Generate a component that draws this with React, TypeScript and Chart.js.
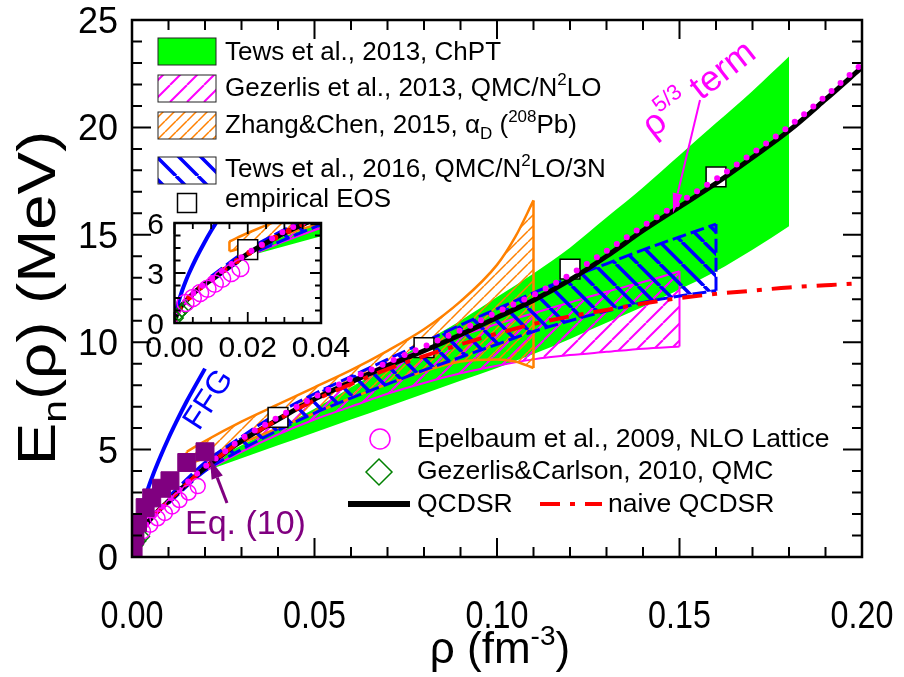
import React, { useEffect, useRef } from 'react';
import { Chart, registerables } from 'chart.js';
Chart.register(...registerables);

const FAMILY = '"Liberation Sans", Arial, Helvetica, sans-serif';

// ---------------- axis ticks ----------------
const xTickValues = [0, 0.05, 0.1, 0.15, 0.2];
const xTickLabels = ['0.00', '0.05', '0.10', '0.15', '0.20'];
const yTickValues = [0, 5, 10, 15, 20, 25];
const yTickLabels = ['0', '5', '10', '15', '20', '25'];
const insetXTickValues = [0, 0.02, 0.04];
const insetXTickLabels = ['0.00', '0.02', '0.04'];
const insetYTickValues = [0, 3, 6];
const insetYTickLabels = ['0', '3', '6'];

// ---------------- curves ----------------
const rhoQCDSR = [0, 0.0005, 0.001, 0.002, 0.003, 0.005, 0.0075, 0.01, 0.015, 0.02, 0.025, 0.03, 0.04, 0.05, 0.06, 0.07, 0.08, 0.09, 0.10, 0.11, 0.12, 0.13, 0.14, 0.15, 0.16, 0.17, 0.18, 0.19, 0.20];
const eQCDSR = [0, 0.45, 0.7, 1.05, 1.3, 1.75, 2.2, 2.6, 3.4, 4.15, 4.8, 5.4, 6.4, 7.35, 8.15, 8.9, 9.6, 10.35, 11.15, 11.95, 12.9, 14.0, 15.2, 16.3, 17.4, 18.6, 19.85, 21.3, 22.8];
const eRho53 = [0, 0.45, 0.7, 1.05, 1.3, 1.75, 2.2, 2.65, 3.45, 4.2, 4.85, 5.5, 6.5, 7.45, 8.3, 9.05, 9.8, 10.55, 11.4, 12.2, 13.15, 14.25, 15.4, 16.5, 17.6, 18.8, 20.05, 21.45, 22.95];
const eNaive = [0, 0.45, 0.7, 1.05, 1.3, 1.75, 2.2, 2.6, 3.4, 4.15, 4.8, 5.4, 6.4, 7.3, 8.05, 8.75, 9.35, 9.9, 10.4, 10.85, 11.2, 11.5, 11.8, 12.05, 12.25, 12.4, 12.55, 12.65, 12.75];

const rhoFFG = [0, 0.0002, 0.0005, 0.001, 0.002, 0.003, 0.004, 0.006, 0.008, 0.01, 0.012, 0.015, 0.02];
const eFFG = [0, 0.41, 0.75, 1.19, 1.89, 2.48, 3.0, 3.93, 4.76, 5.53, 6.24, 7.25, 8.77];

// ---------------- points ----------------
const rhoEq10 = [0.0003, 0.0008, 0.0015, 0.0036, 0.0054, 0.0081, 0.0104, 0.015, 0.02];
const eEq10 = [0.25, 1.0, 1.6, 2.3, 2.75, 3.2, 3.55, 4.4, 4.9];
const rhoEmpirical = [0.02, 0.04, 0.08, 0.12, 0.16];
const eEmpirical = [4.4, 6.5, 9.75, 13.4, 17.7];
const rhoEpelbaum = [0.003, 0.005, 0.007, 0.009, 0.011, 0.013, 0.0155, 0.018];
const eEpelbaum = [1.2, 1.5, 1.8, 2.05, 2.35, 2.65, 3.0, 3.3];
const rhoGezCarlson = [0.0006, 0.0012, 0.002, 0.003];
const eGezCarlson = [0.3, 0.55, 0.75, 0.95];

// ---------------- bands ----------------
const rhoTews13 = [0.02, 0.03, 0.04, 0.05, 0.06, 0.07, 0.08, 0.09, 0.10, 0.11, 0.12, 0.13, 0.14, 0.15, 0.16, 0.17, 0.18];
const loTews13 = [4.0, 4.6, 5.2, 5.8, 6.4, 7.0, 7.6, 8.2, 8.8, 9.45, 10.15, 10.9, 11.65, 12.45, 13.3, 14.3, 15.4];
const hiTews13 = [4.3, 5.2, 6.0, 6.9, 7.9, 8.9, 10.0, 11.0, 12.1, 13.2, 14.4, 15.8, 17.2, 18.7, 20.2, 21.7, 23.3];

const rhoGez13 = [0.02, 0.03, 0.04, 0.05, 0.06, 0.07, 0.08, 0.09, 0.10, 0.11, 0.12, 0.13, 0.14, 0.15];
const loGez13 = [4.0, 4.9, 5.7, 6.4, 7.0, 7.6, 8.1, 8.55, 8.9, 9.2, 9.4, 9.55, 9.7, 9.8];
const hiGez13 = [4.4, 5.4, 6.4, 7.3, 8.2, 9.0, 9.7, 10.3, 10.85, 11.35, 11.85, 12.35, 12.8, 13.3];

const rhoZC15 = [0.015, 0.02, 0.03, 0.04, 0.05, 0.06, 0.07, 0.08, 0.09, 0.10, 0.105, 0.11];
const loZC15 = [4.3, 4.6, 5.3, 6.0, 6.7, 7.4, 8.05, 8.65, 9.1, 9.2, 9.1, 8.8];
const hiZC15 = [4.9, 5.4, 6.3, 7.1, 7.9, 8.7, 9.6, 10.6, 11.9, 13.6, 14.9, 16.6];

const rhoTews16 = [0.01, 0.02, 0.03, 0.04, 0.05, 0.06, 0.07, 0.08, 0.09, 0.10, 0.11, 0.12, 0.13, 0.14, 0.15, 0.16];
const loTews16 = [2.5, 4.0, 5.0, 5.9, 6.7, 7.4, 8.05, 8.7, 9.3, 9.9, 10.5, 11.0, 11.45, 11.85, 12.15, 12.4];
const hiTews16 = [2.8, 4.4, 5.6, 6.7, 7.6, 8.4, 9.2, 10.0, 10.8, 11.55, 12.3, 13.0, 13.65, 14.3, 14.9, 15.5];

// ---------------- colours ----------------
const GREEN = '#00ff00';
const MAGENTA = '#ff00ff';
const ORANGE = '#ff8000';
const BLUE = '#0000ff';
const PURPLE = '#800080';
const RED = '#ff0000';
const DKGREEN = '#008000';

type Pt = { x: number; y: number };
const pts = (xs: number[], ys: number[]): Pt[] => xs.map((x, i) => ({ x, y: ys[i] }));
const edge = (xs: number[], lo: number[], hi: number[], i: number): Pt[] => [
  { x: xs[i], y: lo[i] },
  { x: xs[i], y: hi[i] },
];

type Pats = { magenta: CanvasPattern; orange: CanvasPattern; blue: CanvasPattern };

function hatch(color: string, size: number, lw: number, forward: boolean): CanvasPattern {
  const c = document.createElement('canvas');
  c.width = size;
  c.height = size;
  const g = c.getContext('2d')!;
  g.strokeStyle = color;
  g.lineWidth = lw;
  g.beginPath();
  for (let k = -1; k <= 1; k++) {
    if (forward) {
      g.moveTo(k * size, size);
      g.lineTo(k * size + size, 0);
    } else {
      g.moveTo(k * size, 0);
      g.lineTo(k * size + size, size);
    }
  }
  g.stroke();
  return g.createPattern(c, 'repeat')!;
}

function buildDatasets(p: Pats, inset: boolean) {
  const ds: any[] = [];
  const line = (data: Pt[], color: string, width: number, order: number, extra: any = {}) => ({
    data,
    borderColor: color,
    borderWidth: width,
    pointRadius: 0,
    pointHoverRadius: 0,
    fill: false,
    cubicInterpolationMode: 'monotone',
    order,
    ...extra,
  });
  const band = (
    xs: number[], lo: number[], hi: number[], bg: any, border: string, bw: number,
    dash: number[], order: number, edges: number[],
  ) => {
    ds.push(line(pts(xs, hi), border, bw, order, { fill: '+1', backgroundColor: bg, borderDash: dash }));
    ds.push(line(pts(xs, lo), border, bw, order, { borderDash: dash }));
    edges.forEach((i) => {
      ds.push(line(edge(xs, lo, hi, i), border, bw, order, { borderDash: dash, cubicInterpolationMode: 'default', tension: 0 }));
    });
  };
  band(rhoTews13, loTews13, hiTews13, GREEN, 'rgba(0,0,0,0)', 1, [], 100, []);
  band(rhoGez13, loGez13, hiGez13, p.magenta, MAGENTA, 2, [], 90, [rhoGez13.length - 1]);
  band(rhoZC15, loZC15, hiZC15, p.orange, ORANGE, 2.5, [], 80, [0, rhoZC15.length - 1]);
  band(rhoTews16, loTews16, hiTews16, p.blue, BLUE, 3, [14, 5], 70, [rhoTews16.length - 1]);

  const empX = inset ? rhoEmpirical : rhoEmpirical.filter((r) => r > 0.03);
  const empY = inset ? eEmpirical : eEmpirical.filter((_, i) => rhoEmpirical[i] > 0.03);
  ds.push({
    data: pts(empX, empY), showLine: false, pointStyle: 'rect', pointRadius: 14, pointHoverRadius: 14,
    pointBackgroundColor: '#ffffff', pointBorderColor: '#000000', pointBorderWidth: 1.5, order: 60,
  });
  ds.push(line(pts(rhoFFG, eFFG), BLUE, 4, 50));
  ds.push(line(pts(rhoQCDSR, eQCDSR), '#000000', 5, 40));
  if (inset) {
    ds.push(line(pts(rhoQCDSR, eNaive), RED, 6, 35, { borderDash: [0, 15], borderCapStyle: 'round' }));
  } else {
    ds.push(line(pts(rhoQCDSR, eNaive), RED, 4, 35, { borderDash: [20, 10, 5, 10] }));
  }
  ds.push(line(pts(rhoQCDSR, eRho53), MAGENTA, 6, 30, { borderDash: [0, 12], borderCapStyle: 'round' }));
  ds.push({
    data: pts(rhoEpelbaum, eEpelbaum), showLine: false, pointStyle: 'circle',
    pointRadius: inset ? 8.5 : 7.5, pointHoverRadius: 7.5,
    pointBackgroundColor: 'rgba(0,0,0,0)', pointBorderColor: MAGENTA, pointBorderWidth: 1.5, order: 20,
  });
  ds.push({
    data: pts(rhoGezCarlson, eGezCarlson), showLine: false, pointStyle: 'rectRot', pointRadius: 6.5, pointHoverRadius: 6.5,
    pointBackgroundColor: 'rgba(0,0,0,0)', pointBorderColor: DKGREEN, pointBorderWidth: 1.5, order: 20,
  });
  if (!inset) {
    ds.push({
      data: pts(rhoEq10, eEq10), showLine: false, pointStyle: 'rect', pointRadius: 12.7, pointHoverRadius: 12.7,
      pointBackgroundColor: PURPLE, pointBorderColor: PURPLE, pointBorderWidth: 1, order: 10,
    });
  }
  return ds;
}

type Run = { t: string; s: number; dy?: number };
function runsWidth(ctx: CanvasRenderingContext2D, runs: Run[]) {
  let w = 0;
  for (const r of runs) {
    ctx.font = `${r.s}px ${FAMILY}`;
    w += ctx.measureText(r.t).width;
  }
  return w;
}
function drawRuns(ctx: CanvasRenderingContext2D, runs: Run[], x: number, y: number, align: 'left' | 'center' | 'right') {
  const w = runsWidth(ctx, runs);
  let cx = align === 'left' ? x : align === 'center' ? x - w / 2 : x - w;
  ctx.textAlign = 'left';
  ctx.textBaseline = 'alphabetic';
  for (const r of runs) {
    ctx.font = `${r.s}px ${FAMILY}`;
    ctx.fillText(r.t, cx, y + (r.dy || 0));
    cx += ctx.measureText(r.t).width;
  }
}

function arrow(ctx: CanvasRenderingContext2D, x1: number, y1: number, x2: number, y2: number, color: string, lw: number, head: number, hw: number) {
  const a = Math.atan2(y2 - y1, x2 - x1);
  const bx = x2 - head * Math.cos(a);
  const by = y2 - head * Math.sin(a);
  ctx.strokeStyle = color;
  ctx.fillStyle = color;
  ctx.lineWidth = lw;
  ctx.setLineDash([]);
  ctx.beginPath();
  ctx.moveTo(x1, y1);
  ctx.lineTo(bx, by);
  ctx.stroke();
  ctx.beginPath();
  ctx.moveTo(x2, y2);
  ctx.lineTo(bx + hw * Math.sin(a), by - hw * Math.cos(a));
  ctx.lineTo(bx - hw * Math.sin(a), by + hw * Math.cos(a));
  ctx.closePath();
  ctx.fill();
}

function drawMainDecor(chart: any, p: Pats) {
  const ctx: CanvasRenderingContext2D = chart.ctx;
  const xs = chart.scales.x;
  const ys = chart.scales.y;
  const { left, right, top, bottom } = chart.chartArea;
  ctx.save();
  ctx.setLineDash([]);
  // frame + ticks
  ctx.strokeStyle = '#000';
  ctx.lineWidth = 2.5;
  ctx.strokeRect(left, top, right - left, bottom - top);
  ctx.lineWidth = 2;
  ctx.beginPath();
  for (let i = 0; i <= 20; i++) {
    const px = xs.getPixelForValue(i / 100);
    const L = i % 5 === 0 ? 19 : 10;
    ctx.moveTo(px, bottom);
    ctx.lineTo(px, bottom - L);
    ctx.moveTo(px, top);
    ctx.lineTo(px, top + L);
  }
  for (let i = 0; i <= 25; i++) {
    const py = ys.getPixelForValue(i);
    const L = i % 5 === 0 ? 19 : 10;
    ctx.moveTo(left, py);
    ctx.lineTo(left + L, py);
    ctx.moveTo(right, py);
    ctx.lineTo(right - L, py);
  }
  ctx.stroke();
  // tick labels
  ctx.fillStyle = '#000';
  ctx.textBaseline = 'alphabetic';
  ctx.font = `38px ${FAMILY}`;
  ctx.textAlign = 'center';
  xTickValues.forEach((v, i) => {
    const px = xs.getPixelForValue(v);
    ctx.save();
    ctx.translate(px, 628);
    ctx.scale(0.85, 1);
    ctx.fillText(xTickLabels[i], 0, 0);
    ctx.restore();
  });
  ctx.font = `36px ${FAMILY}`;
  ctx.textAlign = 'right';
  yTickValues.forEach((v, i) => {
    const py = ys.getPixelForValue(v);
    ctx.fillText(yTickLabels[i], 118, py + 13);
  });
  // axis titles
  drawRuns(ctx, [{ t: 'ρ (fm', s: 44 }, { t: '-3', s: 28, dy: -18 }, { t: ')', s: 44 }], 500, 663, 'center');
  ctx.save();
  ctx.translate(55, 298);
  ctx.rotate(-Math.PI / 2);
  ctx.scale(1.2, 1);
  drawRuns(ctx, [{ t: 'E', s: 53 }, { t: 'n', s: 34, dy: 11 }, { t: '(ρ) (MeV)', s: 53 }], 0, 0, 'center');
  ctx.restore();

  // top legend
  const boxX = 158;
  const boxW = 58;
  const boxH = 27;
  const boxes: [number, any][] = [[38, GREEN], [75, p.magenta], [112, p.orange], [157, p.blue]];
  boxes.forEach(([y, fill]) => {
    ctx.fillStyle = '#fff';
    ctx.fillRect(boxX, y, boxW, boxH);
    ctx.fillStyle = fill;
    ctx.fillRect(boxX, y, boxW, boxH);
    ctx.strokeStyle = '#222';
    ctx.lineWidth = 1;
    ctx.strokeRect(boxX, y, boxW, boxH);
  });
  ctx.fillStyle = '#fff';
  ctx.fillRect(177.5, 193.5, 19, 19);
  ctx.strokeStyle = '#000';
  ctx.lineWidth = 1.5;
  ctx.strokeRect(177.5, 193.5, 19, 19);
  ctx.fillStyle = '#000';
  const LS = 26;
  const sup = (t: string): Run => ({ t, s: 17, dy: -11 });
  drawRuns(ctx, [{ t: 'Tews et al., 2013, ChPT', s: LS }], 225, 59.5, 'left');
  drawRuns(ctx, [{ t: 'Gezerlis et al., 2013, QMC/N', s: LS }, sup('2'), { t: 'LO', s: LS }], 225, 96, 'left');
  drawRuns(ctx, [{ t: 'Zhang&Chen, 2015, α', s: LS }, { t: 'D', s: 17, dy: 6 }, { t: ' (', s: LS }, sup('208'), { t: 'Pb)', s: LS }], 225, 133, 'left');
  drawRuns(ctx, [{ t: 'Tews et al., 2016, QMC/N', s: LS }, sup('2'), { t: 'LO/3N', s: LS }], 225, 177, 'left');
  drawRuns(ctx, [{ t: 'empirical EOS', s: LS }], 225, 207, 'left');

  // bottom legend
  ctx.strokeStyle = MAGENTA;
  ctx.lineWidth = 1.5;
  ctx.beginPath();
  ctx.arc(380, 439, 10, 0, Math.PI * 2);
  ctx.stroke();
  ctx.strokeStyle = DKGREEN;
  ctx.beginPath();
  ctx.moveTo(366, 472);
  ctx.lineTo(379, 459);
  ctx.lineTo(392, 472);
  ctx.lineTo(379, 485);
  ctx.closePath();
  ctx.stroke();
  ctx.strokeStyle = '#000';
  ctx.lineWidth = 6;
  ctx.beginPath();
  ctx.moveTo(348, 504);
  ctx.lineTo(410, 504);
  ctx.stroke();
  ctx.strokeStyle = RED;
  ctx.lineWidth = 4;
  ctx.setLineDash([20, 10, 5, 10]);
  ctx.beginPath();
  ctx.moveTo(540, 504);
  ctx.lineTo(602, 504);
  ctx.stroke();
  ctx.setLineDash([]);
  ctx.fillStyle = '#000';
  const BS = 26.5;
  drawRuns(ctx, [{ t: 'Epelbaum et al., 2009, NLO Lattice', s: BS }], 417, 447, 'left');
  drawRuns(ctx, [{ t: 'Gezerlis&Carlson, 2010, QMC', s: BS }], 417, 479, 'left');
  drawRuns(ctx, [{ t: 'QCDSR', s: BS }], 417, 512, 'left');
  drawRuns(ctx, [{ t: 'naive QCDSR', s: BS }], 608, 512, 'left');

  // annotations
  ctx.save();
  ctx.translate(209, 400);
  ctx.rotate((-57 * Math.PI) / 180);
  ctx.fillStyle = BLUE;
  ctx.font = `32px ${FAMILY}`;
  ctx.textAlign = 'center';
  ctx.textBaseline = 'middle';
  ctx.fillText('FFG', 0, 0);
  ctx.restore();

  ctx.save();
  ctx.translate(698, 88);
  ctx.rotate((-38 * Math.PI) / 180);
  ctx.fillStyle = MAGENTA;
  drawRuns(ctx, [{ t: 'ρ', s: 36 }, { t: '5/3', s: 22, dy: -16 }, { t: ' term', s: 36 }], 0, 12, 'center');
  ctx.restore();
  arrow(ctx, 700, 100, 673, 213, MAGENTA, 2, 20, 5);

  ctx.fillStyle = PURPLE;
  drawRuns(ctx, [{ t: 'Eq. (10)', s: 34 }], 185, 534, 'left');
  arrow(ctx, 227, 503, 210, 459, PURPLE, 3, 20, 6);
  ctx.restore();
}

function drawInsetDecor(chart: any) {
  const ctx: CanvasRenderingContext2D = chart.ctx;
  const xs = chart.scales.x;
  const ys = chart.scales.y;
  const { left, right, top, bottom } = chart.chartArea;
  ctx.save();
  ctx.setLineDash([]);
  ctx.strokeStyle = '#000';
  ctx.lineWidth = 2.5;
  ctx.strokeRect(left, top, right - left, bottom - top);
  ctx.lineWidth = 1.8;
  ctx.beginPath();
  for (let i = 0; i <= 8; i++) {
    const px = xs.getPixelForValue(i * 0.005);
    const L = i % 4 === 0 ? 11 : 6;
    ctx.moveTo(px, bottom);
    ctx.lineTo(px, bottom - L);
    ctx.moveTo(px, top);
    ctx.lineTo(px, top + L);
  }
  for (let i = 0; i <= 8; i++) {
    const py = ys.getPixelForValue(i * 0.75);
    const L = i % 4 === 0 ? 11 : 6;
    ctx.moveTo(left, py);
    ctx.lineTo(left + L, py);
    ctx.moveTo(right, py);
    ctx.lineTo(right - L, py);
  }
  ctx.stroke();
  ctx.fillStyle = '#000';
  ctx.font = `30px ${FAMILY}`;
  ctx.textBaseline = 'alphabetic';
  ctx.textAlign = 'center';
  insetXTickValues.forEach((v, i) => {
    ctx.fillText(insetXTickLabels[i], xs.getPixelForValue(v), 157);
  });
  ctx.textAlign = 'right';
  insetYTickValues.forEach((v, i) => {
    ctx.fillText(insetYTickLabels[i], 24, ys.getPixelForValue(v) + 11);
  });
  ctx.restore();
}

export default function App() {
  const mainRef = useRef<HTMLCanvasElement>(null);
  const insetRef = useRef<HTMLCanvasElement>(null);

  useEffect(() => {
    const pats: Pats = {
      magenta: hatch(MAGENTA, 17, 2, true),
      orange: hatch(ORANGE, 11, 1.5, true),
      blue: hatch(BLUE, 22, 3.5, false),
    };
    const common = {
      responsive: false,
      animation: false as const,
      events: [] as any[],
      plugins: { legend: { display: false }, tooltip: { enabled: false } },
    };
    const main = new Chart(mainRef.current!, {
      type: 'line',
      data: { datasets: buildDatasets(pats, false) },
      options: {
        ...common,
        layout: { padding: { left: 132, top: 20, right: 42, bottom: 120 } },
        scales: {
          x: { type: 'linear', min: 0, max: 0.2, display: false },
          y: { type: 'linear', min: 0, max: 25, display: false },
        },
      } as any,
      plugins: [{ id: 'mainDecor', afterDraw: (c: any) => drawMainDecor(c, pats) }],
    });
    const inset = new Chart(insetRef.current!, {
      type: 'line',
      data: { datasets: buildDatasets(pats, true) },
      options: {
        ...common,
        layout: { padding: { left: 34.5, top: 23, right: 29, bottom: 42 } },
        scales: {
          x: { type: 'linear', min: 0, max: 0.04, display: false },
          y: { type: 'linear', min: 0, max: 6, display: false },
        },
      } as any,
      plugins: [
        {
          id: 'insetBg',
          beforeDraw: (c: any) => {
            const { left, right, top, bottom } = c.chartArea;
            c.ctx.save();
            c.ctx.fillStyle = '#ffffff';
            c.ctx.fillRect(left, top, right - left, bottom - top);
            c.ctx.restore();
          },
        },
        { id: 'insetDecor', afterDraw: (c: any) => drawInsetDecor(c) },
      ],
    });
    return () => {
      main.destroy();
      inset.destroy();
    };
  }, []);

  return (
    <div style={{ position: 'absolute', left: 0, top: 0, width: 904, height: 677, background: '#ffffff' }}>
      <canvas ref={mainRef} width={904} height={677} style={{ position: 'absolute', left: 0, top: 0, width: 904, height: 677 }} />
      <canvas ref={insetRef} width={210} height={165} style={{ position: 'absolute', left: 140, top: 200, width: 210, height: 165 }} />
    </div>
  );
}
